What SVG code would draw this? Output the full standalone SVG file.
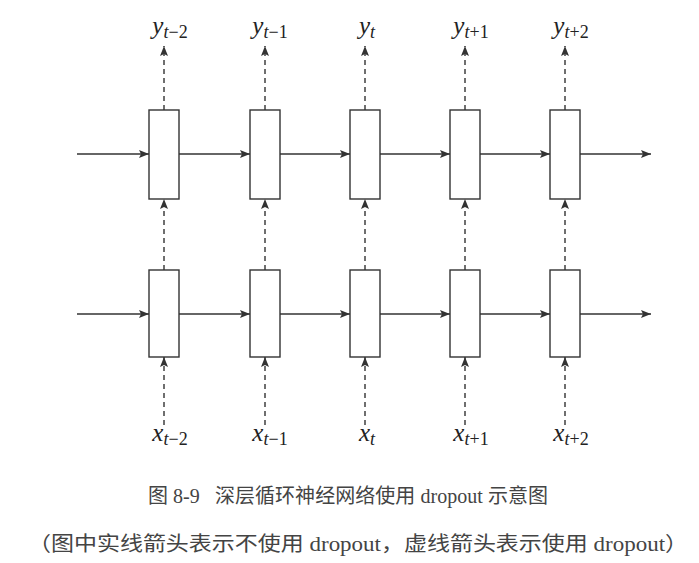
<svg xmlns="http://www.w3.org/2000/svg" width="699" height="563" viewBox="0 0 699 563">
<defs>
<marker id="ah" viewBox="0 0 10 8" refX="10" refY="4" markerWidth="10" markerHeight="8" markerUnits="userSpaceOnUse" orient="auto">
<path d="M0,0 L10,4 L0,8 L2,4 Z" fill="#333"/>
</marker>
</defs>
<style>
.box{fill:#fff;stroke:#333;stroke-width:1.4}
.solid{stroke:#333;stroke-width:1.4;fill:none;marker-end:url(#ah)}
.dash{stroke:#333;stroke-width:1.4;fill:none;stroke-dasharray:5 4;marker-end:url(#ah)}
.lbl{font-family:"Liberation Serif","DejaVu Serif",serif;font-style:italic;font-size:25px;fill:#222}
.sub{font-size:18px}
.up{font-style:normal}
.cap{font-family:"Liberation Serif","Noto Sans CJK SC",serif;font-size:20px;fill:#444}
</style>
<rect width="699" height="563" fill="#fff"/>
<g id="connectors">
<path class="solid" d="M77,154 H149"/>
<path class="solid" d="M179,154 H250"/>
<path class="solid" d="M280,154 H350"/>
<path class="solid" d="M380,154 H450"/>
<path class="solid" d="M480,154 H550"/>
<path class="solid" d="M580,154 H651"/>
<path class="solid" d="M77,314 H149"/>
<path class="solid" d="M179,314 H250"/>
<path class="solid" d="M280,314 H350"/>
<path class="solid" d="M380,314 H450"/>
<path class="solid" d="M480,314 H550"/>
<path class="solid" d="M580,314 H651"/>
<path class="dash" d="M164,110 V46"/>
<path class="dash" d="M265,110 V46"/>
<path class="dash" d="M365,110 V46"/>
<path class="dash" d="M465,110 V46"/>
<path class="dash" d="M565,110 V46"/>
<path class="dash" d="M164,270 V199"/>
<path class="dash" d="M265,270 V199"/>
<path class="dash" d="M365,270 V199"/>
<path class="dash" d="M465,270 V199"/>
<path class="dash" d="M565,270 V199"/>
<path class="dash" d="M164,425 V357"/>
<path class="dash" d="M265,425 V357"/>
<path class="dash" d="M365,425 V357"/>
<path class="dash" d="M465,425 V357"/>
<path class="dash" d="M565,425 V357"/>
</g>
<g id="h1_tm2"><rect class="box" x="149" y="110" width="30" height="89"/></g>
<g id="h1_tm1"><rect class="box" x="250" y="110" width="30" height="89"/></g>
<g id="h1_t"><rect class="box" x="350" y="110" width="30" height="89"/></g>
<g id="h1_tp1"><rect class="box" x="450" y="110" width="30" height="89"/></g>
<g id="h1_tp2"><rect class="box" x="550" y="110" width="30" height="89"/></g>
<g id="h2_tm2"><rect class="box" x="149" y="270" width="30" height="87"/></g>
<g id="h2_tm1"><rect class="box" x="250" y="270" width="30" height="87"/></g>
<g id="h2_t"><rect class="box" x="350" y="270" width="30" height="87"/></g>
<g id="h2_tp1"><rect class="box" x="450" y="270" width="30" height="87"/></g>
<g id="h2_tp2"><rect class="box" x="550" y="270" width="30" height="87"/></g>
<g id="y_tm2"><text class="lbl" x="170" y="34" text-anchor="middle">y<tspan class="sub" dy="4">t<tspan class="up">−2</tspan></tspan></text></g>
<g id="y_tm1"><text class="lbl" x="270" y="34" text-anchor="middle">y<tspan class="sub" dy="4">t<tspan class="up">−1</tspan></tspan></text></g>
<g id="y_t"><text class="lbl" x="367" y="34" text-anchor="middle">y<tspan class="sub" dy="4">t</tspan></text></g>
<g id="y_tp1"><text class="lbl" x="471" y="34" text-anchor="middle">y<tspan class="sub" dy="4">t<tspan class="up">+1</tspan></tspan></text></g>
<g id="y_tp2"><text class="lbl" x="571" y="34" text-anchor="middle">y<tspan class="sub" dy="4">t<tspan class="up">+2</tspan></tspan></text></g>
<g id="x_tm2"><text class="lbl" x="170" y="441" text-anchor="middle">x<tspan class="sub" dy="4">t<tspan class="up">−2</tspan></tspan></text></g>
<g id="x_tm1"><text class="lbl" x="270" y="441" text-anchor="middle">x<tspan class="sub" dy="4">t<tspan class="up">−1</tspan></tspan></text></g>
<g id="x_t"><text class="lbl" x="367" y="441" text-anchor="middle">x<tspan class="sub" dy="4">t</tspan></text></g>
<g id="x_tp1"><text class="lbl" x="471" y="441" text-anchor="middle">x<tspan class="sub" dy="4">t<tspan class="up">+1</tspan></tspan></text></g>
<g id="x_tp2"><text class="lbl" x="571" y="441" text-anchor="middle">x<tspan class="sub" dy="4">t<tspan class="up">+2</tspan></tspan></text></g>
<g id="caption">
<text class="cap" x="148" y="503" xml:space="preserve" textLength="400">图 8-9   深层循环神经网络使用 dropout 示意图</text>
<text class="cap" x="28" y="551" font-size="21" textLength="660" lengthAdjust="spacingAndGlyphs">（图中实线箭头表示不使用 dropout，虚线箭头表示使用 dropout）</text>
</g>
</svg>
